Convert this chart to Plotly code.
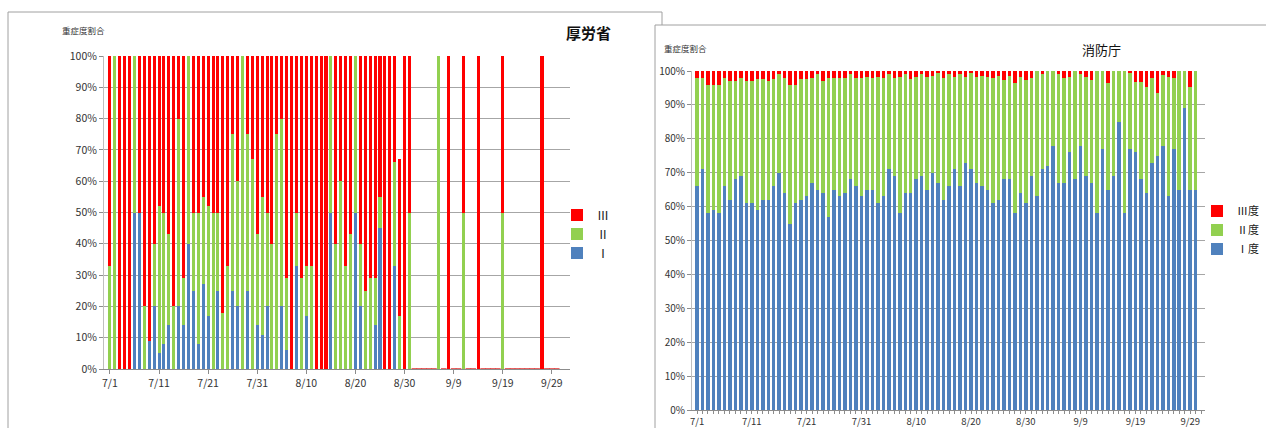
import pandas as pd
import plotly.graph_objects as go

# Days 7/1 .. 9/30
dates = pd.date_range("2020-07-01", "2020-09-30", freq="D")

# 厚労省: share of each severity level per day (%), 0 where no cases
mhlw_I = [0, 0, 0, 0, 0, 50, 50, 0, 9, 20,
          5, 8, 14, 0, 20, 14, 40, 25, 8, 27,
          17, 0, 25, 0, 0, 25, 20, 0, 25, 0,
          14, 11, 20, 0, 0, 20, 6, 0, 33, 0,
          17, 0, 0, 0, 0, 50, 0, 0, 0, 0,
          50, 20, 0, 0, 14, 45, 0, 0, 33, 0,
          0, 0, 0, 0, 0, 0, 0, 0, 0, 0,
          0, 0, 0, 0, 0, 0, 0, 0, 0, 0,
          0, 0, 0, 0, 0, 0, 0, 0, 0, 0,
          0, 0]
mhlw_II = [33, 100, 0, 0, 0, 50, 0, 20, 0, 20,
           47, 42, 29, 20, 60, 15, 60, 25, 42, 28,
           35, 50, 25, 18, 33, 50, 40, 100, 50, 67,
           29, 44, 30, 40, 75, 60, 23, 0, 17, 29,
           16, 33, 0, 0, 0, 50, 40, 60, 33, 43,
           50, 20, 25, 29, 15, 10, 0, 0, 33, 17,
           0, 50, 0, 0, 0, 0, 0, 100, 0, 0,
           0, 0, 50, 0, 0, 0, 0, 0, 0, 0,
           50, 0, 0, 0, 0, 0, 0, 0, 0, 0,
           0, 0]
mhlw_III = [67, 0, 100, 100, 100, 0, 50, 80, 91, 60,
            48, 50, 57, 80, 20, 71, 0, 50, 50, 45,
            48, 50, 50, 82, 67, 25, 40, 0, 25, 33,
            57, 45, 50, 60, 25, 20, 71, 100, 50, 71,
            67, 67, 100, 100, 100, 0, 60, 40, 67, 57,
            0, 60, 75, 71, 71, 45, 100, 100, 67, 50,
            100, 50, 0, 0, 0, 0, 0, 0, 0, 100,
            0, 0, 50, 0, 0, 100, 0, 0, 0, 0,
            50, 0, 0, 0, 0, 0, 0, 0, 100, 0,
            0, 0]

# 消防庁: share of Ⅰ度 and Ⅲ度 per day (%); Ⅱ度 is the remainder
fdma_I = [66, 71, 58, 59, 58, 66, 62, 68, 69, 61,
          61, 59, 62, 62, 66, 70, 64, 55, 61, 62,
          63, 67, 65, 64, 57, 65, 63, 64, 68, 66,
          63, 65, 65, 61, 63, 71, 69, 58, 64, 64,
          68, 69, 65, 70, 67, 62, 66, 71, 66, 73,
          71, 67, 66, 65, 61, 62, 68, 68, 58, 64,
          61, 69, 63, 71, 72, 78, 67, 67, 76, 68,
          78, 69, 67, 58, 77, 65, 69, 85, 58, 77,
          76, 68, 64, 73, 75, 78, 63, 77, 65, 89,
          65, 65]
fdma_III = [2, 2, 4, 4, 4, 2, 3, 3, 2, 3,
            3, 2.5, 2.5, 3, 2.5, 1, 2, 4, 4, 2.5,
            2.5, 2, 1, 3, 2, 2, 2, 2, 1, 2,
            2, 1.7, 2, 1.7, 2, 1, 2, 1.7, 1, 2.4,
            1.7, 1, 1.7, 1.5, 0.7, 2, 1, 1.7, 1, 1.7,
            0.7, 1.7, 1.5, 1.7, 2, 1.5, 2.7, 1.5, 3.4, 1.7,
            2.7, 2, 0, 1, 0, 0, 1, 2, 1.7, 0,
            1, 1.7, 2.7, 0, 0, 3.6, 0, 0, 0, 0.5,
            3.2, 3.2, 4.6, 2, 6.6, 1.2, 1.7, 2.2, 0, 0,
            4.6, 0]
fdma_II = [round(100 - a - c, 1) for a, c in zip(fdma_I, fdma_III)]

mhlw_labels = ["Ⅰ", "Ⅱ", "Ⅲ"]
fdma_labels = ["Ⅰ度", "Ⅱ度", "Ⅲ度"]
colors = ["#4F81BD", "#92D050", "#FF0000"]
pct_ticks = list(range(0, 101, 10))
pct_labels = [f"{v}%" for v in pct_ticks]

W, H = 1266, 428
FONT = "Noto Sans CJK JP, Noto Sans, sans-serif"
DAY = 86400000


def px(x):
    return x / W


def py(y):
    return (H - y) / H


fig = go.Figure()

for vals, name, col in zip([mhlw_I, mhlw_II, mhlw_III], mhlw_labels, colors):
    fig.add_trace(go.Bar(x=dates, y=vals, name=name, marker_color=col,
                         marker_line_width=0, width=0.62 * DAY,
                         xaxis="x", yaxis="y", legend="legend"))

# days with no reported cases sit on the baseline as short red dashes
empty = [d for d, a, b, c in zip(dates, mhlw_I, mhlw_II, mhlw_III) if a + b + c == 0]
fig.add_trace(go.Scatter(x=empty, y=[0] * len(empty), mode="markers",
                         marker=dict(symbol="line-ew", size=4,
                                     line=dict(color="#E03030", width=1.5)),
                         xaxis="x", yaxis="y", showlegend=False,
                         cliponaxis=False, hoverinfo="skip"))

for vals, name, col in zip([fdma_I, fdma_II, fdma_III], fdma_labels, colors):
    fig.add_trace(go.Bar(x=dates, y=vals, name=name, marker_color=col,
                         marker_line_width=0, width=0.64 * DAY,
                         xaxis="x2", yaxis="y2", legend="legend2"))

start = dates[0]
tickfont = dict(family=FONT, size=10.5, color="#333333")
grid = "#a6a6a6"

fig.update_layout(
    width=W, height=H,
    margin=dict(l=0, r=0, t=0, b=0, autoexpand=False),
    paper_bgcolor="white", plot_bgcolor="rgba(0,0,0,0)",
    barmode="stack", bargap=0,
    font=dict(family=FONT, color="#222222"),
    xaxis=dict(domain=[px(104), px(570)], anchor="y", type="date",
               range=[start - pd.Timedelta(hours=29), start + pd.Timedelta(days=93.7)],
               tick0=start, dtick=10 * DAY, tickformat="%-m/%-d",
               ticks="outside", ticklen=4, tickcolor="#8c8c8c",
               showline=True, linecolor="#8c8c8c", linewidth=1,
               showgrid=False, tickfont=tickfont),
    yaxis=dict(domain=[py(369), py(56)], anchor="x", range=[0, 100],
               tickmode="array", tickvals=pct_ticks, ticktext=pct_labels,
               ticks="outside", ticklen=4, tickcolor="#8c8c8c",
               showline=True, linecolor="#bfbfbf",
               gridcolor=grid, gridwidth=1, zeroline=False, tickfont=tickfont),
    xaxis2=dict(domain=[px(692), px(1205)], anchor="y2", type="date",
                range=[start - pd.Timedelta(hours=22), start + pd.Timedelta(days=92.7)],
                tick0=start, dtick=10 * DAY, tickformat="%-m/%-d",
                ticks="outside", ticklen=3, tickcolor="#8c8c8c",
                minor=dict(ticks="outside", dtick=DAY, ticklen=3, tickcolor="#8c8c8c"),
                showline=True, linecolor="#8c8c8c", linewidth=1,
                showgrid=False, tickfont=dict(family=FONT, size=9.5, color="#333333")),
    yaxis2=dict(domain=[py(410), py(71)], anchor="x2", range=[0, 100],
                tickmode="array", tickvals=pct_ticks, ticktext=pct_labels,
                ticks="outside", ticklen=4, tickcolor="#8c8c8c",
                showline=True, linecolor="#bfbfbf",
                gridcolor=grid, gridwidth=1, zeroline=False,
                tickfont=dict(family=FONT, size=10, color="#333333")),
    legend=dict(x=px(557), xanchor="left", y=py(234), yanchor="middle",
                traceorder="reversed", bgcolor="rgba(0,0,0,0)",
                font=dict(family=FONT, size=12, color="#222222")),
    legend2=dict(x=px(1197), xanchor="left", y=py(230), yanchor="middle",
                 traceorder="reversed", bgcolor="rgba(0,0,0,0)",
                 font=dict(family=FONT, size=11, color="#222222")),
    shapes=[
        dict(type="rect", xref="paper", yref="paper", layer="below",
             x0=px(8), x1=px(662), y0=py(445), y1=py(12),
             line=dict(color="#a0a0a0", width=1), fillcolor="white"),
        dict(type="rect", xref="paper", yref="paper", layer="below",
             x0=px(655), x1=px(1290), y0=py(445), y1=py(25),
             line=dict(color="#a0a0a0", width=1), fillcolor="white"),
    ],
    annotations=[
        dict(text="重症度割合", x=px(83), y=py(30), xref="paper", yref="paper",
             xanchor="center", yanchor="middle", showarrow=False,
             font=dict(family=FONT, size=8.5, color="#333333")),
        dict(text="<b>厚労省</b>", x=px(588), y=py(32), xref="paper", yref="paper",
             xanchor="center", yanchor="middle", showarrow=False,
             font=dict(family=FONT, size=15, color="#111111")),
        dict(text="重症度割合", x=px(685), y=py(48), xref="paper", yref="paper",
             xanchor="center", yanchor="middle", showarrow=False,
             font=dict(family=FONT, size=8.5, color="#333333")),
        dict(text="消防庁", x=px(1101), y=py(50), xref="paper", yref="paper",
             xanchor="center", yanchor="middle", showarrow=False,
             font=dict(family=FONT, size=13, color="#111111")),
    ],
)

fig.write_html("out.html")
